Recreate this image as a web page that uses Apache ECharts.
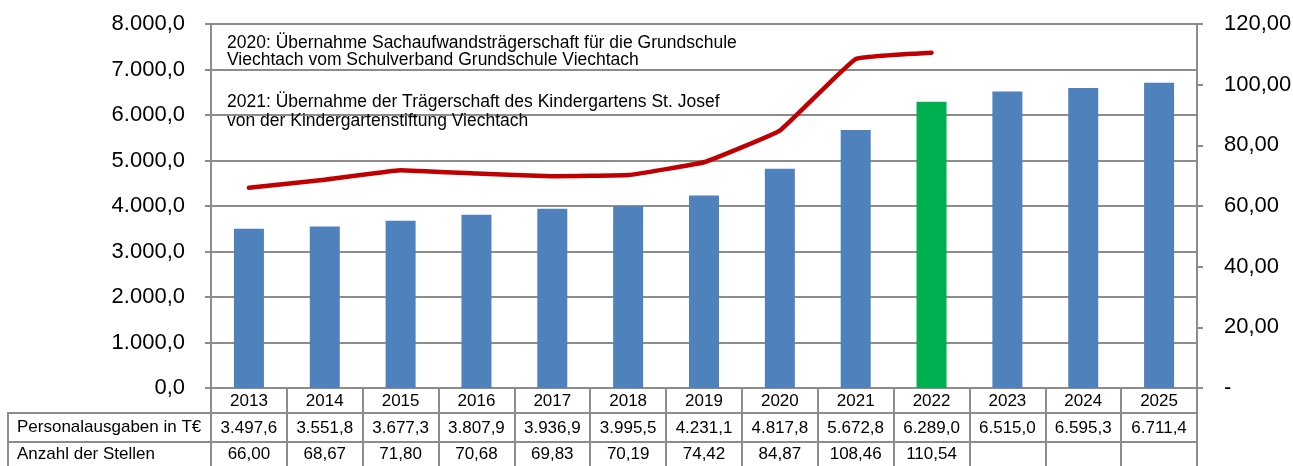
<!DOCTYPE html>
<html>
<head>
<meta charset="utf-8">
<script src="https://cdn.jsdelivr.net/npm/echarts@6/dist/echarts.min.js"></script>
<style>
  html, body { margin: 0; padding: 0; background: #fff; }
  #chart { width: 1293px; height: 466px; }
</style>
</head>
<body>
<div id="chart"></div>
<script>
// Jahre (Kategorien)
const years = ['2013', '2014', '2015', '2016', '2017', '2018', '2019', '2020', '2021', '2022', '2023', '2024', '2025'];
// Personalausgaben in T€ (Säulen, linke Achse)
const personal = [3497.6, 3551.8, 3677.3, 3807.9, 3936.9, 3995.5, 4231.1, 4817.8, 5672.8, 6289.0, 6515.0, 6595.3, 6711.4];
// Anzahl der Stellen (Linie, rechte Achse)
const stellen = [66.00, 68.67, 71.80, 70.68, 69.83, 70.19, 74.42, 84.87, 108.46, 110.54];
// Zeilenbeschriftungen der Datentabelle
const rowLabels = ['Personalausgaben in T€', 'Anzahl der Stellen'];
// hervorgehobenes Jahr
const highlightYear = '2022';
// Erläuterungen im Diagramm
const notes = [
  '2020: Übernahme Sachaufwandsträgerschaft für die Grundschule',
  'Viechtach vom Schulverband Grundschule Viechtach',
  '2021: Übernahme der Trägerschaft des Kindergartens St. Josef',
  'von der Kindergartenstiftung Viechtach'
];

const FONT = '"Liberation Sans", Arial, sans-serif';
const GRAY = '#8c8c8c';
const BLUE = '#4f81bd';
const GREEN = '#00b050';
const RED = '#c00000';

function fmtDE(v, dec) {
  const s = Number(v).toFixed(dec);
  const parts = s.split('.');
  const i = parts[0].replace(/\B(?=(\d{3})+(?!\d))/g, '.');
  return parts[1] ? i + ',' + parts[1] : i;
}

const chart = echarts.init(document.getElementById('chart'), null, { renderer: 'canvas' });

const gridBase = { outerBoundsMode: 'none', containLabel: false };
const cellBorder = { show: true, borderColor: GRAY, borderWidth: 2, backgroundColor: 'transparent' };

const noteYs = [44, 61, 103, 122];

chart.setOption({
  animation: false,
  textStyle: { fontFamily: FONT },
  grid: [
    Object.assign({ left: 211, right: 96, top: 24, height: 364 }, gridBase),
    Object.assign({ left: 211, right: 96, top: 413, height: 29 }, gridBase, cellBorder),
    Object.assign({ left: 211, right: 96, top: 442, height: 25 }, gridBase, cellBorder),
    Object.assign({ left: 8, width: 203, top: 413, height: 29 }, gridBase, cellBorder),
    Object.assign({ left: 8, width: 203, top: 442, height: 25 }, gridBase, cellBorder)
  ],
  xAxis: [
    {
      gridIndex: 0, type: 'category', data: years,
      axisLine: { lineStyle: { color: GRAY, width: 2 } },
      axisTick: { show: true, interval: 0, length: 90, lineStyle: { color: GRAY, width: 2 } },
      axisLabel: { interval: 0, fontSize: 17, color: '#000', fontFamily: FONT, margin: 13, verticalAlign: 'middle' },
      splitLine: { show: false }
    },
    {
      gridIndex: 1, type: 'category', data: years, position: 'top',
      axisLine: { show: false }, axisTick: { show: false },
      axisLabel: {
        inside: true, interval: 0, margin: 15, verticalAlign: 'middle',
        fontSize: 17, color: '#000', fontFamily: FONT,
        formatter: (v, i) => personal[i] == null ? '' : fmtDE(personal[i], 1)
      }
    },
    {
      gridIndex: 2, type: 'category', data: years, position: 'top',
      axisLine: { show: false }, axisTick: { show: false },
      axisLabel: {
        inside: true, interval: 0, margin: 12, verticalAlign: 'middle',
        fontSize: 17, color: '#000', fontFamily: FONT,
        formatter: (v, i) => stellen[i] == null ? '' : fmtDE(stellen[i], 2)
      }
    },
    { gridIndex: 3, type: 'category', data: [''], show: false },
    { gridIndex: 4, type: 'category', data: [''], show: false }
  ],
  yAxis: [
    {
      gridIndex: 0, type: 'value', position: 'left', min: 0, max: 8000, interval: 1000,
      axisLine: { show: true, lineStyle: { color: GRAY, width: 2 } },
      axisTick: { show: true, length: 6, lineStyle: { color: GRAY, width: 2 } },
      splitLine: { show: true, lineStyle: { color: GRAY, width: 2 } },
      axisLabel: { fontSize: 22, color: '#000', fontFamily: FONT, margin: 26, formatter: v => fmtDE(v, 1) }
    },
    {
      gridIndex: 0, type: 'value', position: 'right', min: 0, max: 120, interval: 20,
      axisLine: { show: true, lineStyle: { color: GRAY, width: 2 } },
      axisTick: { show: true, length: 6, lineStyle: { color: GRAY, width: 2 } },
      splitLine: { show: false },
      axisLabel: { fontSize: 22, color: '#000', fontFamily: FONT, margin: 27, formatter: v => v === 0 ? '-' : fmtDE(v, 2) }
    },
    { gridIndex: 1, type: 'value', show: false },
    { gridIndex: 2, type: 'value', show: false },
    {
      gridIndex: 3, type: 'category', data: [rowLabels[0]],
      axisLine: { show: false }, axisTick: { show: false },
      axisLabel: { inside: true, margin: 9, fontSize: 17, color: '#000', fontFamily: FONT }
    },
    {
      gridIndex: 4, type: 'category', data: [rowLabels[1]],
      axisLine: { show: false }, axisTick: { show: false },
      axisLabel: { inside: true, margin: 9, fontSize: 17, color: '#000', fontFamily: FONT }
    }
  ],
  series: [
    {
      name: rowLabels[0], type: 'bar', xAxisIndex: 0, yAxisIndex: 0,
      barWidth: 30,
      itemStyle: { color: BLUE },
      data: personal.map((v, i) => years[i] === highlightYear ? { value: v, itemStyle: { color: GREEN } } : v),
      z: 2
    },
    {
      name: rowLabels[1], type: 'line', xAxisIndex: 0, yAxisIndex: 1,
      data: stellen, symbol: 'none', showSymbol: false, smooth: 0.08,
      lineStyle: { color: RED, width: 4.5, cap: 'round', join: 'round' },
      z: 3
    }
  ],
  graphic: notes.map((t, i) => ({
    type: 'text', left: 227, top: noteYs[i] - 10, z: 5,
    style: { text: t, fill: '#000', font: '17.5px ' + FONT }
  }))
});
</script>
</body>
</html>
